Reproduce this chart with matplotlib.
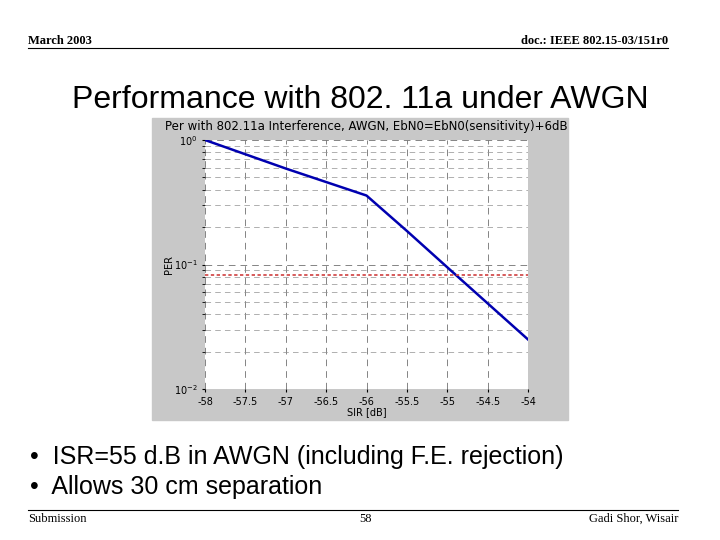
import numpy as np
import matplotlib.pyplot as plt
from matplotlib.patches import Rectangle

sir = [-58, -57, -56, -55.5, -55, -54]
per = [1.0, 0.59, 0.358, 0.186, 0.095, 0.025]
per_target = 0.083
xticks = [-58, -57.5, -57, -56.5, -56, -55.5, -55, -54.5, -54]

W, H = 720, 540
fig = plt.figure(figsize=(7.2, 5.4), dpi=100)

def fx(px): return px / W
def fy(py): return 1 - py / H

# slide decorations
fig.text(fx(28), fy(44), "March 2003", family="Liberation Serif", weight="bold", fontsize=9)
fig.text(fx(668), fy(44), "doc.: IEEE 802.15-03/151r0", family="Liberation Serif", weight="bold", fontsize=9, ha="right")
fig.add_artist(plt.Line2D([fx(28), fx(668)], [fy(48), fy(48)], color="black", lw=0.8))
fig.text(0.5, fy(108), "Performance with 802. 11a under AWGN", ha="center", family="Liberation Sans", fontsize=23)
fig.text(fx(30), fy(464), "\u2022  ISR=55 d.B in AWGN (including F.E. rejection)", family="Liberation Sans", fontsize=18)
fig.text(fx(30), fy(494), "\u2022  Allows 30 cm separation", family="Liberation Sans", fontsize=18)
fig.add_artist(plt.Line2D([fx(28), fx(678)], [fy(510), fy(510)], color="black", lw=0.8))
fig.text(fx(28), fy(522), "Submission", family="Liberation Serif", fontsize=9)
fig.text(fx(365), fy(522), "58", family="Liberation Serif", fontsize=9, ha="center")
fig.text(fx(678), fy(522), "Gadi Shor, Wisair", family="Liberation Serif", fontsize=9, ha="right")

# gray chart background
fig.add_artist(Rectangle((fx(152), fy(420)), fx(568 - 152), fy(118) - fy(420),
                         transform=fig.transFigure, color="#c8c8c8", zorder=0))

ax = fig.add_axes([fx(205), fy(389), fx(528 - 205), fy(140) - fy(389)])
ax.set_yscale("log")
ax.set_xlim(-58, -54)
ax.set_ylim(1e-2, 1)
ax.plot(sir, per, color="#0000b0", lw=1.8)
ax.axhline(per_target, color="#d04040", ls=(0, (2, 1.5)), lw=1.2)
ax.set_xticks(xticks)
ax.set_xticklabels([f"{t:g}" for t in xticks])
ax.grid(True, which="major", color="#707070", ls=(0, (8, 6)), lw=0.6)
ax.grid(True, which="minor", axis="y", color="#909090", ls=(0, (8, 6)), lw=0.5)
ax.tick_params(labelsize=7, length=2)
ax.set_xlabel("SIR [dB]", fontsize=7, labelpad=0)
ax.set_ylabel("PER", fontsize=7, labelpad=0)
ax.set_title("Per with 802.11a Interference, AWGN, EbN0=EbN0(sensitivity)+6dB", fontsize=8.5, pad=7)
for s in ax.spines.values():
    s.set_visible(False)

fig.savefig("out.png", dpi=100)
